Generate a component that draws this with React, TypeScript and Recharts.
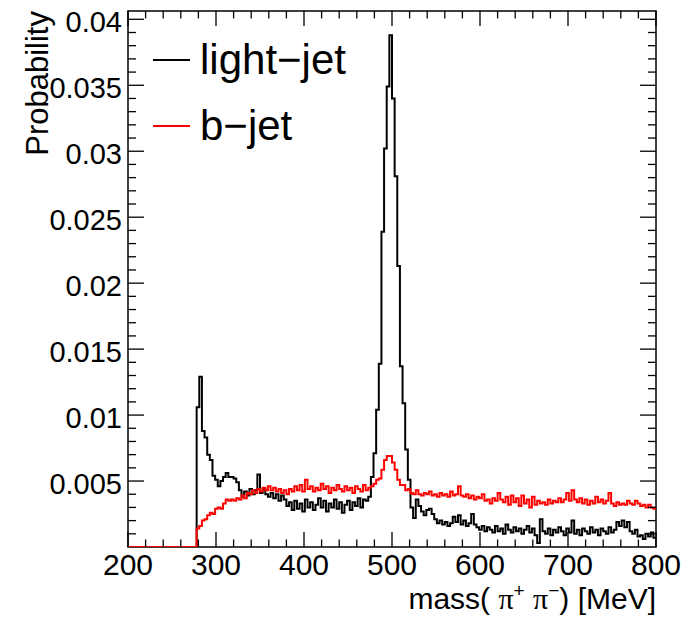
import React from 'react';
import { LineChart, Line, XAxis, YAxis, Legend, ReferenceArea } from 'recharts';

// Histogram binning: 3 MeV bins from 200 to 800 MeV
const BIN_START = 200;
const BIN_WIDTH = 3;
const X_MIN = 200;
const X_MAX = 800;
const Y_MAX = 0.04063;

// Bin contents in units of 1e-3 (probability), one value per 3 MeV bin starting at 200 MeV
const LIGHT_JET = [
  0, 0, 0, 0, 0, 0, 0, 0, 0, 0,
  0, 0, 0, 0, 0, 0, 0, 0, 0, 0,
  0, 0, 0, 0, 0, 0,
  10.6, 12.9, 8.8, 8.3, 7.0, 6.6, 5.4, 5.1, 4.6, 5.0,
  5.3, 5.6, 5.3, 5.3, 5.2, 4.9, 4.3, 3.8, 4.2, 3.9,
  4.4, 4.0, 4.3, 5.5, 4.1, 4.4, 4.0, 3.8, 4.1, 3.7,
  4.0, 3.5, 3.9, 3.6, 3.1, 3.4, 2.8, 3.5, 2.9, 3.3,
  2.7, 3.6, 3.0, 3.4, 2.8, 3.2, 3.7, 3.0, 3.5, 2.7,
  3.3, 3.0, 3.6, 2.9, 3.4, 2.6, 3.2, 3.5, 2.8, 3.4,
  3.1, 3.7, 3.0, 3.6, 3.5, 3.8, 5.3, 7.1, 10.4, 13.9,
  23.9, 30.2, 34.9, 38.8, 34.0, 28.1, 21.3, 13.7, 10.9, 7.4,
  5.1, 3.0, 2.2, 3.6, 3.1, 2.7, 2.4, 2.8, 2.9, 2.5,
  2.1, 1.8, 2.0, 1.7, 1.9, 1.6, 1.8, 2.3, 1.9, 2.4,
  1.7, 2.0, 1.6, 1.8, 2.5, 1.7, 1.5, 1.3, 1.6, 1.2,
  1.5, 1.3, 1.1, 1.6, 1.2, 1.4, 1.0, 1.7, 1.3, 1.1,
  1.5, 1.2, 1.4, 1.0, 1.3, 1.6, 1.1, 1.4, 0.9, 0.3,
  2.1, 1.2, 1.0, 1.4, 0.9, 1.3, 1.1, 1.5, 1.2, 0.9,
  1.4, 1.1, 2.0, 1.0, 1.3, 0.9, 1.4, 1.2, 1.0, 1.5,
  1.1, 1.3, 0.9, 1.4, 1.2, 1.0, 1.5, 1.1, 1.3, 1.9,
  1.6, 2.0, 1.5, 1.9, 1.2, 1.0, 1.3, 0.8, 0.9, 0.6,
  1.0, 0.8, 1.1, 0.7,
];

const B_JET = [
  0, 0, 0, 0, 0, 0, 0, 0, 0, 0,
  0, 0, 0, 0, 0, 0, 0, 0, 0, 0,
  0, 0, 0, 0, 0, 0,
  1.4, 1.6, 2.0, 2.1, 2.4, 2.6, 2.5, 2.9, 3.0, 2.9,
  3.3, 3.6, 3.5, 3.6, 3.5, 3.7, 3.6, 3.9, 3.7, 4.1,
  4.0, 4.3, 4.1, 4.4, 4.2, 4.5, 4.3, 4.6, 4.3, 4.5,
  4.2, 4.4, 4.1, 4.3, 4.0, 4.4, 4.2, 4.6, 4.3, 4.7,
  4.2, 5.1, 4.4, 4.6, 4.2, 4.5, 4.3, 4.8, 4.4, 4.6,
  4.1, 4.5, 4.3, 4.7, 4.4, 4.2, 4.6, 4.3, 4.5, 4.1,
  4.6, 4.4, 4.2, 4.7, 4.3, 4.5, 4.6, 4.8, 5.1, 5.2,
  5.85, 6.6, 6.9, 6.9, 6.4, 5.85, 5.1, 4.7, 4.7, 4.3,
  4.4, 4.1, 4.0, 4.3, 4.0, 3.9, 4.1, 4.0, 4.2, 3.9,
  4.0, 3.8, 4.1, 3.9, 4.0, 3.8, 4.2, 3.9, 4.0, 4.6,
  3.9, 3.8, 4.0, 3.7, 3.9, 3.6, 3.8, 3.7, 4.0, 3.5,
  3.6, 3.3, 3.7, 3.5, 4.1, 3.6, 3.4, 3.8, 3.2, 3.9,
  3.4, 3.7, 3.1, 3.9, 3.3, 3.6, 3.0, 3.8, 3.2, 3.5,
  3.3, 3.4, 3.2, 3.6, 3.3, 3.5, 3.4, 3.7, 3.4, 3.6,
  4.1, 3.5, 4.3, 3.6, 3.4, 3.7, 3.3, 3.6, 3.2, 3.5,
  3.3, 3.8, 3.4, 3.6, 3.3, 3.5, 4.1, 3.3, 3.1, 3.4,
  3.2, 3.3, 3.2, 3.5, 3.3, 3.2, 3.5, 3.3, 3.1, 3.2,
  3.0, 3.2, 3.0, 2.9,
];

const SERIES_NAMES = ['light\u2212jet', 'b\u2212jet'];
const SERIES_COLORS = ['#000000', '#ff0000'];

const X_MAJOR = [200, 300, 400, 500, 600, 700, 800];
const X_TICKS = Array.from({ length: 31 }, (_, i) => 200 + 20 * i);
const Y_MAJOR = [0.005, 0.01, 0.015, 0.02, 0.025, 0.03, 0.035, 0.04];
const Y_LABELS = ['0.005', '0.01', '0.015', '0.02', '0.025', '0.03', '0.035', '0.04'];
const Y_TICKS = Array.from({ length: 40 }, (_, i) => (i + 1) / 1000);

const FONT = '"Liberation Sans", Arial, Helvetica, sans-serif';
const SERIF = '"Liberation Serif", "DejaVu Serif", serif';

const data = LIGHT_JET.map((v, i) => ({
  x: BIN_START + BIN_WIDTH * i,
  light: v / 1000,
  b: B_JET[i] / 1000,
}));
data.push({
  x: X_MAX,
  light: LIGHT_JET[LIGHT_JET.length - 1] / 1000,
  b: B_JET[B_JET.length - 1] / 1000,
});

const isXMajor = (v: number) => X_MAJOR.includes(v);
const yMajorIndex = (v: number) => Y_MAJOR.findIndex((m) => Math.abs(m - v) < 1e-9);

const BottomTick = (props: any) => {
  const { x, y, payload } = props;
  const major = isXMajor(payload.value);
  return (
    <g>
      <line x1={x} x2={x} y1={y} y2={y - (major ? 15 : 7.5)} stroke="#000" strokeWidth={1.3} />
      {major && (
        <text x={x} y={y + 28} textAnchor="middle" fontSize={30} fontFamily={FONT} fill="#000">
          {payload.value}
        </text>
      )}
    </g>
  );
};

const TopTick = (props: any) => {
  const { x, y, payload } = props;
  const major = isXMajor(payload.value);
  return <line x1={x} x2={x} y1={y} y2={y + (major ? 15 : 7.5)} stroke="#000" strokeWidth={1.3} />;
};

const LeftTick = (props: any) => {
  const { x, y, payload } = props;
  const idx = yMajorIndex(payload.value);
  const major = idx >= 0;
  return (
    <g>
      <line x1={x} x2={x + (major ? 16 : 8)} y1={y} y2={y} stroke="#000" strokeWidth={1.3} />
      {major && (
        <text x={x - 6} y={y + 13} textAnchor="end" fontSize={29} fontFamily={FONT} fill="#000">
          {Y_LABELS[idx]}
        </text>
      )}
    </g>
  );
};

const RightTick = (props: any) => {
  const { x, y, payload } = props;
  const major = yMajorIndex(payload.value) >= 0;
  return <line x1={x} x2={x - (major ? 16 : 8)} y1={y} y2={y} stroke="#000" strokeWidth={1.3} />;
};

const XTitle = (props: any) => {
  const vb = props.viewBox || { x: 128, y: 547, width: 528 };
  return (
    <text x={vb.x + vb.width} y={vb.y + 62} textAnchor="end" fontSize={30} fontFamily={FONT} fill="#000">
      <tspan>mass( </tspan>
      <tspan fontFamily={SERIF}>{'\u03c0'}</tspan>
      <tspan fontSize={19} dy={-12}>+</tspan>
      <tspan dy={12}> </tspan>
      <tspan fontFamily={SERIF}>{'\u03c0'}</tspan>
      <tspan fontSize={19} dy={-12}>{'\u2212'}</tspan>
      <tspan dy={12}>) [MeV]</tspan>
    </text>
  );
};

const YTitle = (props: any) => {
  const vb = props.viewBox || { x: 0, y: 11 };
  return (
    <text
      transform="rotate(-90)"
      x={-vb.y}
      y={vb.x + 48}
      textAnchor="end"
      fontSize={31}
      fontFamily={FONT}
      fill="#000"
    >
      Probability
    </text>
  );
};

const LegendBox = (props: any) => {
  const payload = [...(props.payload || [])].sort(
    (a: any, b: any) => SERIES_NAMES.indexOf(a.value) - SERIES_NAMES.indexOf(b.value)
  );
  return (
    <svg width={260} height={150} style={{ overflow: 'visible' }}>
      {payload.map((entry: any, i: number) => (
        <g key={entry.value}>
          <line x1={13} x2={50} y1={40 + 66 * i} y2={40 + 66 * i} stroke={entry.color} strokeWidth={2} />
          <text x={60} y={53.5 + 66 * i} fontSize={42} fontFamily={FONT} fill="#000">
            {entry.value}
          </text>
        </g>
      ))}
    </svg>
  );
};

export default function App() {
  return (
    <div style={{ position: 'absolute', left: 0, top: 0, width: 687, height: 619, background: '#fff' }}>
      <LineChart width={687} height={619} data={data} margin={{ top: 0, right: 0, bottom: 0, left: 0 }}>
        <ReferenceArea
          x1={X_MIN}
          x2={X_MAX}
          y1={0}
          y2={Y_MAX}
          fill="none"
          stroke="#000"
          strokeWidth={1.5}
          ifOverflow="visible"
        />
        <XAxis
          dataKey="x"
          type="number"
          domain={[X_MIN, X_MAX]}
          ticks={X_TICKS}
          interval={0}
          height={72}
          tickSize={0}
          tickMargin={0}
          axisLine={false}
          tickLine={false}
          tick={BottomTick}
          label={XTitle}
          allowDataOverflow
        />
        <XAxis
          xAxisId="top"
          orientation="top"
          dataKey="x"
          type="number"
          domain={[X_MIN, X_MAX]}
          ticks={X_TICKS}
          interval={0}
          height={11}
          tickSize={0}
          tickMargin={0}
          axisLine={false}
          tickLine={false}
          tick={TopTick}
          allowDataOverflow
        />
        <YAxis
          type="number"
          domain={[0, Y_MAX]}
          ticks={Y_TICKS}
          interval={0}
          width={128}
          tickSize={0}
          tickMargin={0}
          axisLine={false}
          tickLine={false}
          tick={LeftTick}
          label={YTitle}
          allowDataOverflow
        />
        <YAxis
          yAxisId="right"
          orientation="right"
          type="number"
          domain={[0, Y_MAX]}
          ticks={Y_TICKS}
          interval={0}
          width={31}
          tickSize={0}
          tickMargin={0}
          axisLine={false}
          tickLine={false}
          tick={RightTick}
          allowDataOverflow
        />
        <Legend
          layout="vertical"
          align="center"
          verticalAlign="middle"
          itemSorter={null}
          wrapperStyle={{ position: 'absolute', left: 140, top: 20, width: 260, height: 150 }}
          content={LegendBox}
        />
        <Line
          type="stepAfter"
          dataKey="light"
          name={SERIES_NAMES[0]}
          stroke={SERIES_COLORS[0]}
          strokeWidth={2}
          dot={false}
          activeDot={false}
          isAnimationActive={false}
        />
        <Line
          type="stepAfter"
          dataKey="b"
          name={SERIES_NAMES[1]}
          stroke={SERIES_COLORS[1]}
          strokeWidth={2}
          dot={false}
          activeDot={false}
          isAnimationActive={false}
        />
      </LineChart>
    </div>
  );
}
